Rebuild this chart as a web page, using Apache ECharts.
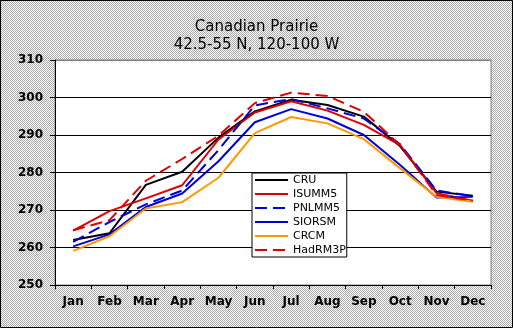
<!DOCTYPE html>
<html>
<head>
<meta charset="utf-8">
<script src="https://cdn.jsdelivr.net/npm/echarts@6/dist/echarts.min.js"></script>
<style>
html,body{margin:0;padding:0;background:#fff;}
#chart{width:513px;height:328px;}
</style>
</head>
<body>
<div id="chart"></div>
<script>
const months = ['Jan','Feb','Mar','Apr','May','Jun','Jul','Aug','Sep','Oct','Nov','Dec'];
const CRU     = [262.0, 263.8, 276.7, 280.2, 289.3, 296.3, 299.4, 298.0, 294.9, 287.0, 274.9, 273.8];
const ISUMM5  = [264.5, 269.7, 273.1, 276.6, 288.8, 296.0, 299.0, 296.5, 292.7, 287.3, 274.5, 272.5];
const PNLMM5  = [261.5, 266.8, 271.5, 275.2, 286.0, 297.9, 299.6, 297.1, 294.4, 287.5, 275.2, 273.7];
const SIORSM  = [260.3, 263.5, 270.8, 274.4, 283.0, 293.4, 296.9, 294.4, 290.0, 282.0, 273.3, 273.5];
const CRCM    = [259.1, 263.0, 270.4, 272.1, 278.6, 290.5, 294.8, 293.1, 288.9, 281.1, 273.5, 272.2];
const HadRM3P = [264.6, 267.3, 277.8, 283.6, 289.8, 298.5, 301.3, 300.4, 296.2, 287.3, 274.0, 272.5];
const yTicks = [250, 260, 270, 280, 290, 300, 310];
const titleText = 'Canadian Prairie\n42.5-55 N, 120-100 W';

const pc = document.createElement('canvas');
pc.width = 2; pc.height = 2;
const pctx = pc.getContext('2d');
pctx.fillStyle = '#ffffff'; pctx.fillRect(0,0,2,2);
pctx.fillStyle = '#a8a8a8'; pctx.fillRect(0,0,1,1); pctx.fillRect(1,1,1,1);

const font = 'DejaVu Sans';
const chart = echarts.init(document.getElementById('chart'), null, {renderer:'canvas'});
function mk(name, data, color, dashed){
  return {name, type:'line', data, symbol:'circle', showSymbol:false, smooth:false,
    lineStyle:{color, width:2, type: dashed ? [12,6] : 'solid'},
    itemStyle:{color}, emphasis:{disabled:true}};
}
chart.setOption({
  animation:false,
  backgroundColor:{image: pc, repeat:'repeat'},
  title:{text:titleText, left:'center', top:13,
    textStyle:{fontFamily:font, fontSize:15, fontWeight:'normal', color:'#000', lineHeight:18}},
  grid:{left:55, right:22, top:60, bottom:43, show:true, backgroundColor:'#fff', borderColor:'#808080', borderWidth:1},
  legend:{orient:'vertical', left:252, top:173, padding:[0,1,0,2], itemGap:0, itemWidth:33, itemHeight:14,
    backgroundColor:'#fff', borderColor:'#000', borderWidth:1, borderRadius:0,
    itemStyle:{color:'rgba(0,0,0,0)', borderColor:'rgba(0,0,0,0)', borderWidth:0, opacity:0},
    textStyle:{fontFamily:font, fontSize:11, color:'#000', lineHeight:14},
    data:['CRU','ISUMM5','PNLMM5','SIORSM','CRCM','HadRM3P']},
  xAxis:{type:'category', data:months, boundaryGap:true,
    axisLine:{lineStyle:{color:'#000', width:1}},
    axisTick:{show:true, length:4, lineStyle:{color:'#000'}},
    axisLabel:{interval:0, margin:11, fontFamily:font, fontSize:12, fontWeight:'bold', color:'#000'}},
  yAxis:{type:'value', min:yTicks[0], max:yTicks[yTicks.length-1], interval:10,
    axisLine:{show:true, lineStyle:{color:'#000', width:1}},
    axisTick:{show:true, length:5, lineStyle:{color:'#000'}},
    axisLabel:{margin:12, fontFamily:font, fontSize:12, fontWeight:'bold', color:'#000'},
    splitLine:{show:true, lineStyle:{color:['#000','#000','#000','#000','#000','#000','#808080'], width:1}}},
  graphic:[{type:'rect', shape:{x:0.5, y:0.5, width:512, height:327}, style:{fill:null, stroke:'#000', lineWidth:1}, z:100, silent:true}],
  series:[
    mk('CRU', CRU, '#000000', false),
    mk('ISUMM5', ISUMM5, '#dd0000', false),
    mk('PNLMM5', PNLMM5, '#0000dd', true),
    mk('SIORSM', SIORSM, '#0000dd', false),
    mk('CRCM', CRCM, '#ff9900', false),
    mk('HadRM3P', HadRM3P, '#dd0000', true)
  ]
});
</script>
</body>
</html>
